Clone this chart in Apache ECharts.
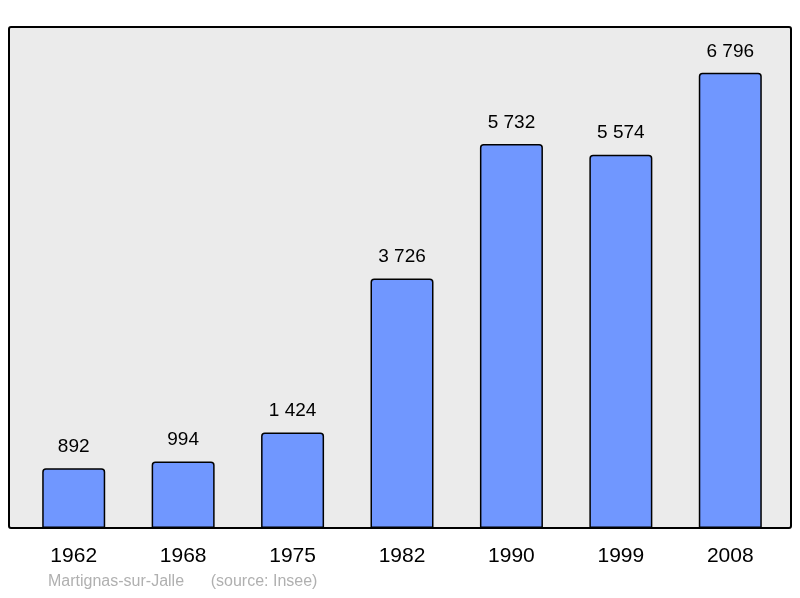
<!DOCTYPE html>
<html>
<head>
<meta charset="utf-8">
<script src="https://cdn.jsdelivr.net/npm/echarts@6/dist/echarts.min.js"></script>
<style>html,body{margin:0;padding:0;background:#fff}#chart{width:800px;height:598px}</style>
</head>
<body>
<div id="chart"></div>
<script>
const years = ['1962', '1968', '1975', '1982', '1990', '1999', '2008'];
const population = [892, 994, 1424, 3726, 5732, 5574, 6796];

const chart = echarts.init(document.getElementById('chart'));

function fmt(v) {
    return String(v).replace(/\B(?=(\d{3})+(?!\d))/g, ' ');
}

chart.setOption({
    animation: false,
    graphic: [
        {
            type: 'rect', z: -10,
            shape: { x: 9, y: 27, width: 782, height: 501, r: 2 },
            style: { fill: '#ebebeb', stroke: '#000', lineWidth: 2 }
        },
        {
            type: 'text', left: 48, top: 574,
            style: { text: 'Martignas-sur-Jalle      (source: Insee)', fill: '#b0b0b0', font: '16px "Liberation Sans", Arial, sans-serif' }
        }
    ],
    grid: { left: 19, right: 15, top: 27, bottom: 70 },
    xAxis: {
        type: 'category',
        data: years,
        axisLine: { show: false },
        axisTick: { show: false },
        axisLabel: { color: '#000', fontSize: 21, margin: 18, fontFamily: '"Liberation Sans", Arial, sans-serif' }
    },
    yAxis: {
        type: 'value', min: 0, max: 7480,
        show: false
    },
    series: [{
        type: 'bar',
        data: population,
        barWidth: 63,
        itemStyle: { color: '#7097ff', borderColor: '#000', borderWidth: 1.5, borderRadius: [3, 3, 0, 0] },
        label: {
            show: true, position: 'top', distance: 12,
            color: '#000', fontSize: 19, fontFamily: '"Liberation Sans", Arial, sans-serif',
            formatter: p => fmt(p.value)
        }
    }]
});
</script>
</body>
</html>
